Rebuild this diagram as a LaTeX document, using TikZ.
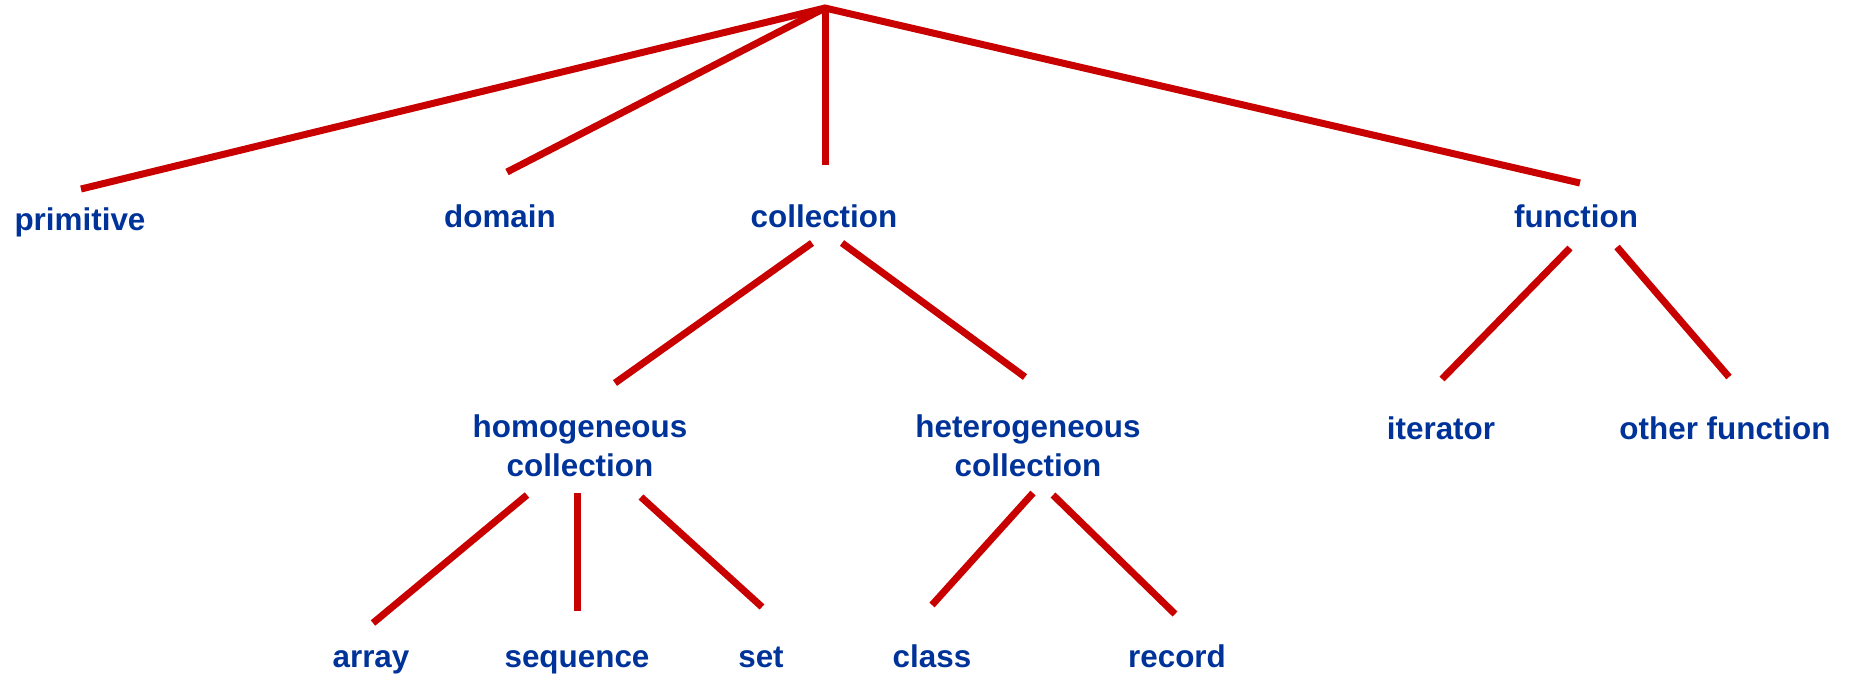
\documentclass[tikz,border=0pt]{standalone}
\usepackage{fontspec}
\setmainfont{Liberation Sans}
\definecolor{linkred}{RGB}{200,0,0}
\definecolor{labelblue}{RGB}{0,51,153}
\begin{document}
\begin{tikzpicture}[x=0.5pt,y=-0.5pt,
  lbl/.style={text=labelblue,font=\fontsize{15.7}{19.5}\selectfont\bfseries,
              inner sep=0pt,anchor=base,align=center},
  link/.style={draw=linkred,line width=3.5pt,line cap=butt}]
\useasboundingbox (0,0) rectangle (1854,677);

% labels (two-line labels are placed by the baseline of their last line)
\node[lbl] (primitive)  at (80,230)   {primitive};
\node[lbl] (domain)     at (500,227)  {domain};
\node[lbl] (collection) at (824,227)  {collection};
\node[lbl] (function)   at (1576,227) {function};
\node[lbl] (homog)      at (580,476)  {homogeneous\\collection};
\node[lbl] (heterog)    at (1028,476) {heterogeneous\\collection};
\node[lbl] (iterator)   at (1441,439) {iterator};
\node[lbl] (otherfn)    at (1725,439) {other function};
\node[lbl] (array)      at (371,667)  {array};
\node[lbl] (sequence)   at (577,667)  {sequence};
\node[lbl] (set)        at (761,667)  {set};
\node[lbl] (class)      at (932,667)  {class};
\node[lbl] (record)     at (1177,667) {record};

% line ends
\coordinate (root) at (825,8);
\coordinate (primitive-in) at (81,189);
\coordinate (domain-in) at (507,172);
\coordinate (collection-in) at (825,165);
\coordinate (function-in) at (1580,183);
\coordinate (collection-l) at (812,243);
\coordinate (collection-r) at (842,243);
\coordinate (homog-in) at (615,383);
\coordinate (heterog-in) at (1025,377);
\coordinate (function-l) at (1570,248);
\coordinate (function-r) at (1617,247);
\coordinate (iterator-in) at (1442,379);
\coordinate (otherfn-in) at (1729,377);
\coordinate (homog-l) at (527,495);
\coordinate (homog-m) at (577,493);
\coordinate (homog-r) at (641,497);
\coordinate (array-in) at (373,623);
\coordinate (sequence-in) at (577,611);
\coordinate (set-in) at (762,607);
\coordinate (heterog-l) at (1033,493);
\coordinate (heterog-r) at (1053,495);
\coordinate (class-in) at (932,605);
\coordinate (record-in) at (1175,614);

% tree connectors
\draw[link,line join=miter] (primitive-in) -- (root) -- (function-in);
\draw[link] (root) -- (domain-in);
\draw[link] (root) -- (collection-in);
\draw[link] (collection-l) -- (homog-in);
\draw[link] (collection-r) -- (heterog-in);
\draw[link] (function-l) -- (iterator-in);
\draw[link] (function-r) -- (otherfn-in);
\draw[link] (homog-l) -- (array-in);
\draw[link] (homog-m) -- (sequence-in);
\draw[link] (homog-r) -- (set-in);
\draw[link] (heterog-l) -- (class-in);
\draw[link] (heterog-r) -- (record-in);
\end{tikzpicture}
\end{document}
